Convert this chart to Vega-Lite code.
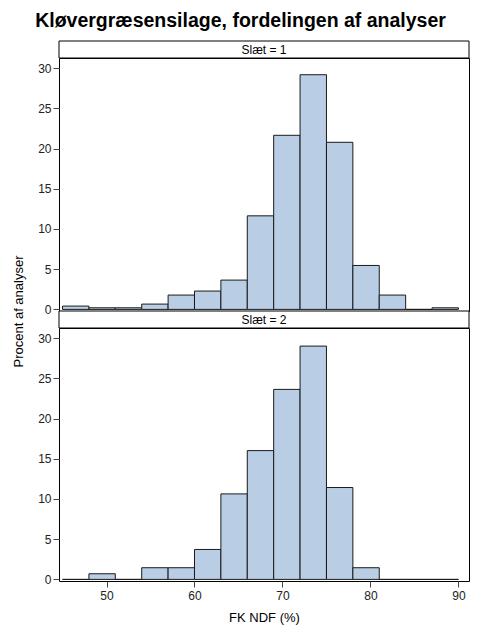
{
  "$schema": "https://vega.github.io/schema/vega-lite/v6.json",
  "padding": {"left": 11, "top": 11, "right": 11, "bottom": 8},
  "background": "white",
  "title": {
    "text": "Kløvergræsensilage, fordelingen af analyser",
    "fontSize": 19.5,
    "fontWeight": "bold",
    "font": "Liberation Sans",
    "color": "black",
    "anchor": "middle",
    "frame": "bounds",
    "offset": 9
  },
  "datasets": {
    "hist": [
      {"slaet": 1, "lo": 45, "hi": 48, "pct": 0.41},
      {"slaet": 1, "lo": 48, "hi": 51, "pct": 0.2},
      {"slaet": 1, "lo": 51, "hi": 54, "pct": 0.2},
      {"slaet": 1, "lo": 54, "hi": 57, "pct": 0.66},
      {"slaet": 1, "lo": 57, "hi": 60, "pct": 1.78},
      {"slaet": 1, "lo": 60, "hi": 63, "pct": 2.28},
      {"slaet": 1, "lo": 63, "hi": 66, "pct": 3.64},
      {"slaet": 1, "lo": 66, "hi": 69, "pct": 11.63},
      {"slaet": 1, "lo": 69, "hi": 72, "pct": 21.64},
      {"slaet": 1, "lo": 72, "hi": 75, "pct": 29.17},
      {"slaet": 1, "lo": 75, "hi": 78, "pct": 20.77},
      {"slaet": 1, "lo": 78, "hi": 81, "pct": 5.46},
      {"slaet": 1, "lo": 81, "hi": 84, "pct": 1.78},
      {"slaet": 1, "lo": 84, "hi": 87, "pct": 0},
      {"slaet": 1, "lo": 87, "hi": 90, "pct": 0.2},
      {"slaet": 2, "lo": 45, "hi": 48, "pct": 0},
      {"slaet": 2, "lo": 48, "hi": 51, "pct": 0.7},
      {"slaet": 2, "lo": 51, "hi": 54, "pct": 0},
      {"slaet": 2, "lo": 54, "hi": 57, "pct": 1.45},
      {"slaet": 2, "lo": 57, "hi": 60, "pct": 1.45},
      {"slaet": 2, "lo": 60, "hi": 63, "pct": 3.72},
      {"slaet": 2, "lo": 63, "hi": 66, "pct": 10.63},
      {"slaet": 2, "lo": 66, "hi": 69, "pct": 16.01},
      {"slaet": 2, "lo": 69, "hi": 72, "pct": 23.62},
      {"slaet": 2, "lo": 72, "hi": 75, "pct": 29.0},
      {"slaet": 2, "lo": 75, "hi": 78, "pct": 11.42},
      {"slaet": 2, "lo": 78, "hi": 81, "pct": 1.45},
      {"slaet": 2, "lo": 81, "hi": 84, "pct": 0},
      {"slaet": 2, "lo": 84, "hi": 87, "pct": 0},
      {"slaet": 2, "lo": 87, "hi": 90, "pct": 0}
    ]
  },
  "spacing": 0,
  "bounds": "flush",
  "vconcat": [
    {
      "width": 410,
      "height": 17,
      "data": {"values": [{"label": "Slæt = 1"}]},
      "layer": [
        {"mark": {"type": "rect", "fill": "white", "stroke": "black", "strokeWidth": 1}},
        {
          "mark": {"type": "text", "fontSize": 12, "font": "Liberation Sans", "color": "black"},
          "encoding": {"text": {"field": "label", "type": "nominal"}}
        }
      ]
    },
    {
      "width": 410,
      "height": 253,
      "data": {"name": "hist"},
      "transform": [{"filter": "datum.slaet == 1"}],
      "mark": {"type": "bar", "fill": "#b9cde5", "stroke": "#1a1a1a", "strokeWidth": 1, "opacity": 1},
      "encoding": {
        "x": {
          "field": "lo",
          "type": "quantitative",
          "scale": {"domain": [44.6, 91.2], "nice": false, "zero": false},
          "axis": null
        },
        "x2": {"field": "hi"},
        "y": {
          "field": "pct",
          "type": "quantitative",
          "scale": {"domain": [-0.2, 31.25], "nice": false, "zero": false},
          "axis": {
            "values": [0, 5, 10, 15, 20, 25, 30],
            "title": "Procent af analyser",
            "titleY": 253,
            "titleX": -34
          }
        },
        "y2": {"datum": 0}
      }
    },
    {
      "width": 410,
      "height": 17,
      "data": {"values": [{"label": "Slæt = 2"}]},
      "layer": [
        {"mark": {"type": "rect", "fill": "white", "stroke": "black", "strokeWidth": 1}},
        {
          "mark": {"type": "text", "fontSize": 12, "font": "Liberation Sans", "color": "black"},
          "encoding": {"text": {"field": "label", "type": "nominal"}}
        }
      ]
    },
    {
      "width": 410,
      "height": 253,
      "data": {"name": "hist"},
      "transform": [{"filter": "datum.slaet == 2"}],
      "mark": {"type": "bar", "fill": "#b9cde5", "stroke": "#1a1a1a", "strokeWidth": 1, "opacity": 1},
      "encoding": {
        "x": {
          "field": "lo",
          "type": "quantitative",
          "scale": {"domain": [44.6, 91.2], "nice": false, "zero": false},
          "axis": {
            "values": [50, 60, 70, 80, 90],
            "title": "FK NDF (%)",
            "titlePadding": 10
          }
        },
        "x2": {"field": "hi"},
        "y": {
          "field": "pct",
          "type": "quantitative",
          "scale": {"domain": [-0.2, 31.25], "nice": false, "zero": false},
          "axis": {"values": [0, 5, 10, 15, 20, 25, 30], "title": null}
        },
        "y2": {"datum": 0}
      }
    }
  ],
  "config": {
    "view": {"stroke": "black", "strokeWidth": 1},
    "font": "Liberation Sans",
    "axis": {
      "grid": false,
      "domain": false,
      "ticks": true,
      "tickSize": 6,
      "tickColor": "#444",
      "labelPadding": 2,
      "labelFontSize": 12,
      "labelColor": "#222",
      "labelFont": "Liberation Sans",
      "titleFont": "Liberation Sans",
      "titleFontSize": 13,
      "titleFontWeight": "normal",
      "titleColor": "black"
    },
    "axisX": {"labelPadding": 3}
  }
}
